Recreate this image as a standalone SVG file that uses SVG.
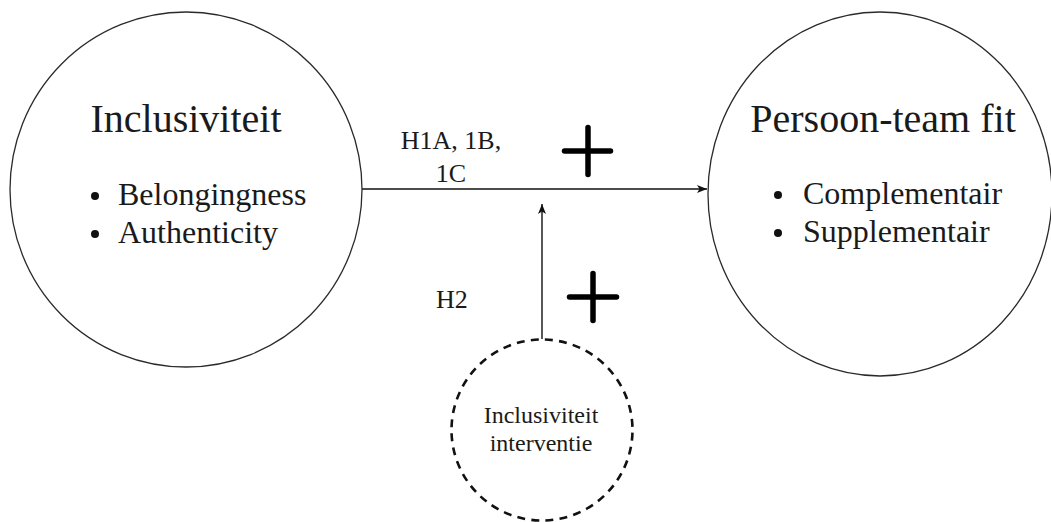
<svg xmlns="http://www.w3.org/2000/svg" width="1051" height="522" viewBox="0 0 1051 522">
  <defs>
    <style>
      .node { fill: none; stroke: #2a2a2a; stroke-width: 1.3; }
      .dashed { fill: none; stroke: #111; stroke-width: 2.6; stroke-dasharray: 8 6.2; stroke-dashoffset: 11.5; }
      .t { font-family: "Liberation Serif", "Times New Roman", serif; fill: #1a1a1a; }
      .title { font-size: 40px; }
      .item { font-size: 32px; }
      .lbl { font-size: 26px; }
      .small { font-size: 24px; }
      .bullet { fill: #111; }
      .edge { stroke: #111; stroke-width: 1.4; fill: none; }
      .plus { stroke: #000; stroke-width: 5.5; stroke-linecap: round; fill: none; }
    </style>
    <marker id="arr" viewBox="0 0 10 8" refX="10" refY="4" markerWidth="10" markerHeight="8" markerUnits="userSpaceOnUse" orient="auto">
      <path d="M0,0 L10,4 L0,8 L2.5,4 Z" fill="#111"/>
    </marker>
  </defs>
  <rect width="1051" height="522" fill="#ffffff"/>

  <g id="connectors">
    <line class="edge" x1="362" y1="189" x2="707" y2="189" marker-end="url(#arr)"/>
    <line class="edge" x1="542" y1="339" x2="542" y2="204" marker-end="url(#arr)"/>
  </g>

  <g id="node-inclusiviteit">
    <ellipse class="node" cx="186" cy="189.5" rx="176" ry="177.5"/>
    <text class="t title" x="186" y="132" text-anchor="middle">Inclusiviteit</text>
    <circle class="bullet" cx="95" cy="196" r="4"/>
    <text class="t item" x="118" y="205">Belongingness</text>
    <circle class="bullet" cx="95" cy="234" r="4"/>
    <text class="t item" x="118" y="243">Authenticity</text>
  </g>

  <g id="node-persoon-team-fit">
    <ellipse class="node" cx="880" cy="194" rx="172" ry="182"/>
    <text class="t title" x="883" y="132" text-anchor="middle">Persoon-team fit</text>
    <circle class="bullet" cx="778" cy="195" r="4"/>
    <text class="t item" x="803" y="204">Complementair</text>
    <circle class="bullet" cx="778" cy="233" r="4"/>
    <text class="t item" x="803" y="241.5">Supplementair</text>
  </g>

  <g id="node-interventie">
    <circle class="dashed" cx="542" cy="430" r="90.5"/>
    <text class="t small" x="541" y="423" text-anchor="middle">Inclusiviteit</text>
    <text class="t small" x="541" y="451" text-anchor="middle">interventie</text>
  </g>

  <g id="label-h1">
    <text class="t lbl" x="451" y="149" text-anchor="middle">H1A, 1B,</text>
    <text class="t lbl" x="451" y="182" text-anchor="middle">1C</text>
  </g>
  <g id="label-h2">
    <text class="t lbl" x="436" y="308">H2</text>
  </g>

  <g id="plus-1">
    <line class="plus" x1="564.5" y1="151" x2="610.5" y2="151"/>
    <line class="plus" x1="588" y1="127.5" x2="588" y2="174.5"/>
  </g>
  <g id="plus-2">
    <line class="plus" x1="569.5" y1="297" x2="616.5" y2="297"/>
    <line class="plus" x1="593" y1="273.5" x2="593" y2="320.5"/>
  </g>
</svg>
